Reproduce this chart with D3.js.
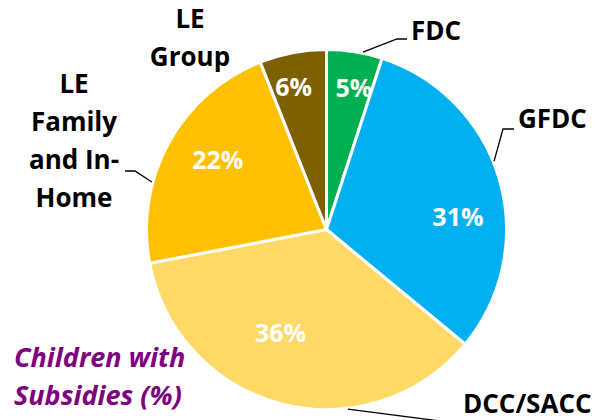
<!DOCTYPE html>
<html>
<head>
<script src="https://cdn.jsdelivr.net/npm/d3@7"></script>
<style>
body{margin:0;background:#fff;}
.chart text{font-family:"Open Sans", Lato, sans-serif;font-weight:bold;}
</style>
</head>
<body>
<svg class="chart" width="608" height="420"></svg>
<script>
// data
var categories = ["FDC", "GFDC", "DCC/SACC", "LE Family and In-Home", "LE Group"];
var shares = [5, 31, 36, 22, 6];
var labelLines = [["FDC"], ["GFDC"], ["DCC/SACC"], ["LE", "Family", "and In-", "Home"], ["LE", "Group"]];
var colors = ["#00B050", "#00B0F0", "#FFD966", "#FFC000", "#7F6000"];
var title = ["Children with", "Subsidies (%)"];

// layout
var cx = 326.5, cy = 229.5, radius = 180;
var pctPlace = [[11, 144], [84.6, 132], [204, 113], [302.6, 129], [347, 146]]; // [angle deg, dist]
var outer = [
    {x: 436, y: 40, anchor: "middle", lead: [11.6, [397, 39], [407, 39]]},
    {x: 518, y: 128, anchor: "start", lead: [67.8, [503, 129], [514, 129]]},
    {x: 463, y: 413, anchor: "start", lead: [173.2, [440, 421], [440, 421]]},
    {x: 74, y: 93, anchor: "middle", lead: [285.2, [135, 171], [125, 171]]},
    {x: 190, y: 28, anchor: "middle", lead: null}
];
var lineH = 38;

var data = categories.map(function(c, i){ return {cat: c, value: shares[i], i: i}; });

var svg = d3.select("svg");
var g = svg.append("g").attr("transform", "translate(" + cx + "," + cy + ")");

var pie = d3.pie().sort(null).value(function(d){ return d.value; });
var arc = d3.arc().innerRadius(0).outerRadius(radius);
var color = d3.scaleOrdinal().domain(categories).range(colors);

var arcs = pie(data);

g.selectAll("path.slice").data(arcs).enter().append("path")
    .attr("class", "slice")
    .attr("d", arc)
    .attr("fill", function(d){ return color(d.data.cat); })
    .attr("stroke", "#fff")
    .attr("stroke-width", 3)
    .attr("stroke-linejoin", "round");

function polar(deg, r){
    var a = deg * Math.PI / 180;
    return [r * Math.sin(a), -r * Math.cos(a)];
}

g.selectAll("text.pct").data(arcs).enter().append("text")
    .attr("class", "pct")
    .attr("transform", function(d){
        var p = polar(pctPlace[d.index][0], pctPlace[d.index][1]);
        return "translate(" + p[0] + "," + p[1] + ")";
    })
    .attr("dy", "0.36em")
    .attr("text-anchor", "middle")
    .attr("fill", "#fff")
    .style("font-size", "25px")
    .text(function(d){ return d.data.value + "%"; });

// leader lines
var line = d3.line();
arcs.forEach(function(d){
    var o = outer[d.index];
    if (!o.lead) return;
    var s = polar(o.lead[0], radius + 1);
    var pts = [[s[0] + cx, s[1] + cy], o.lead[1], o.lead[2]];
    svg.append("path")
        .attr("d", line(pts))
        .attr("fill", "none")
        .attr("stroke", "#000")
        .attr("stroke-width", 1.3);
});

// category labels
arcs.forEach(function(d){
    var o = outer[d.index];
    var t = svg.append("text")
        .attr("text-anchor", o.anchor)
        .attr("fill", "#000")
        .style("font-size", "26px");
    labelLines[d.index].forEach(function(s, k){
        t.append("tspan").attr("x", o.x).attr("y", o.y + k * lineH).text(s);
    });
});

// title
var tt = svg.append("text")
    .attr("fill", "#7F007F")
    .style("font-size", "27px")
    .style("font-style", "italic");
title.forEach(function(s, k){
    tt.append("tspan").attr("x", 14).attr("y", 367 + k * lineH).text(s);
});
</script>
</body>
</html>
